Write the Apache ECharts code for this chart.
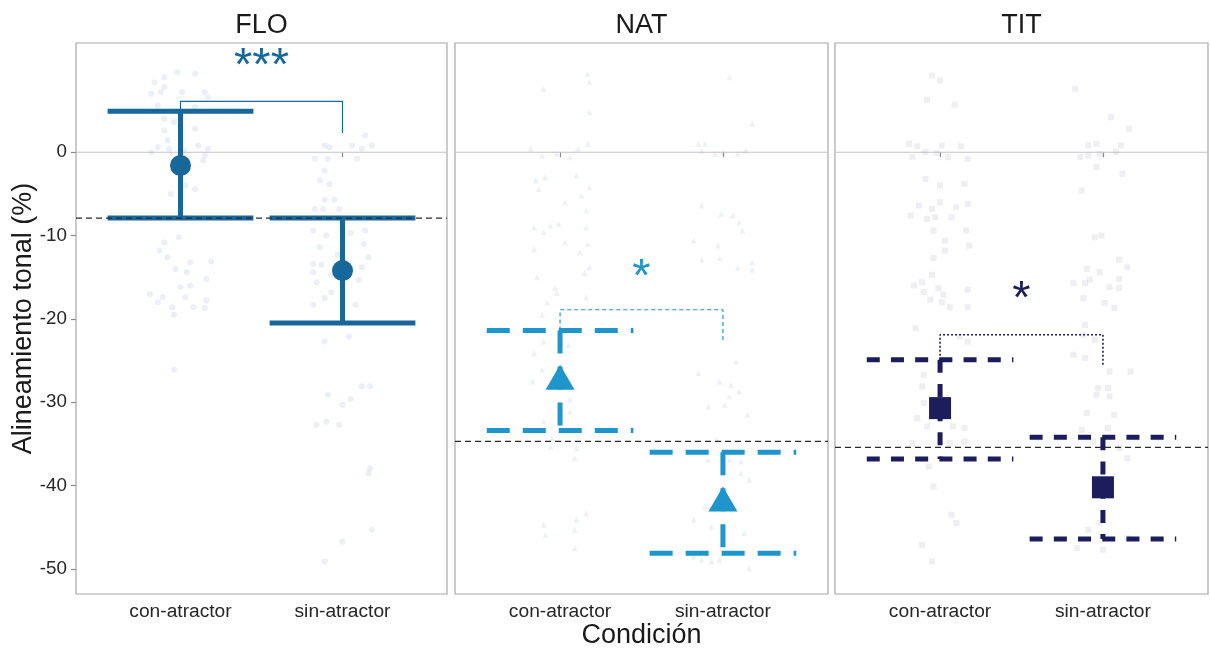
<!DOCTYPE html>
<html><head><meta charset="utf-8">
<script src="https://cdn.jsdelivr.net/npm/echarts@6/dist/echarts.min.js"></script>
<style>html,body{margin:0;padding:0;background:#fff}#c{width:1210px;height:648px}</style>
</head><body><div id="c"></div>
<script>
// ---------------- DATA ----------------
const panelNames = ['FLO', 'NAT', 'TIT'];
const categories = ['con-atractor', 'sin-atractor'];
const yTicks = [-50, -40, -30, -20, -10, 0];

// means and error-bar limits (con-atractor, sin-atractor)
const meanFLO = [-1.6, -14.2], lowFLO = [-7.9, -20.5], highFLO = [4.9, -7.9];
const meanNAT = [-27.0, -41.6], lowNAT = [-33.4, -48.1], highNAT = [-21.4, -36.0];
const meanTIT = [-30.7, -40.2], lowTIT = [-36.8, -46.4], highTIT = [-24.9, -34.2];

// horizontal reference lines
const zeroLine = 0;
const refLine = [-7.9, -34.7, -35.4];

// significance brackets
const bracketTop = [6.1, -18.9, -21.9];
const bracketLeftEnd = [4.9, -21.4, -24.9];
const bracketRightEnd = [2.3, -22.9, -25.7];
const sigLabels = ['***', '*', '*'];
const sigY = [11.45, -13.85, -16.55];

// individual observations: [jitter offset, value]
const jitFLO_con = [[-0.02,9.6],[0.09,9.4],[-0.10,9.0],[-0.16,8.4],[-0.10,7.8],[-0.18,7.0],[-0.12,7.2],[0.01,7.2],[0.15,7.2],[0.17,6.6],[-0.14,5.6],[0.09,5.4],[-0.10,4.0],[-0.04,3.6],[0.09,2.8],[-0.10,2.6],[-0.08,1.4],[0.11,0.8],[-0.14,0.6],[-0.07,0.4],[0.17,0.4],[-0.18,0.0],[0.02,0.2],[0.15,-0.4],[0.14,-1.0],[0.03,-4.0],[0.09,-4.4],[-0.06,-5.0],[-0.01,-10.2],[-0.10,-10.8],[-0.13,-11.8],[-0.08,-12.6],[0.06,-13.2],[0.19,-13.1],[-0.03,-14.0],[0.04,-14.4],[0.16,-15.2],[0.0,-16.2],[0.06,-16.0],[-0.19,-17.0],[-0.11,-17.4],[0.03,-17.4],[-0.14,-18.0],[-0.05,-18.6],[0.08,-18.6],[0.16,-17.8],[0.15,-18.7],[-0.04,-19.5],[-0.04,-26.1]];
const jitFLO_sin = [[0.14,2.0],[-0.11,0.8],[-0.08,0.6],[0.06,0.8],[0.18,0.8],[0.12,0.4],[-0.17,-0.8],[-0.09,-0.8],[0.09,-0.8],[-0.11,-2.2],[-0.14,-3.4],[-0.08,-3.8],[-0.11,-5.7],[-0.05,-5.7],[-0.17,-6.8],[-0.12,-6.8],[-0.02,-6.8],[-0.18,-9.4],[0.14,-9.4],[-0.10,-10.0],[0.05,-9.7],[-0.14,-11.4],[0.13,-11.0],[-0.03,-12.3],[0.16,-12.6],[-0.18,-13.4],[-0.13,-13.5],[0.12,-13.8],[-0.18,-14.4],[-0.07,-14.7],[-0.16,-15.6],[0.10,-15.3],[-0.07,-16.8],[-0.11,-17.5],[-0.18,-18.3],[0.08,-18.3],[-0.11,-22.7],[0.04,-22.1],[-0.09,-29.1],[0.0,-30.3],[0.05,-29.6],[0.12,-28.1],[0.17,-28.1],[-0.16,-32.7],[-0.10,-32.3],[-0.02,-32.7],[0.17,-37.9],[0.16,-38.5],[0.18,-45.3],[0.0,-46.7],[-0.11,-49.1]];
const jitNAT_con = [[0.17,9.4],[0.18,8.4],[-0.10,7.6],[0.18,4.8],[-0.18,0.4],[-0.11,-0.4],[-0.02,-0.2],[0.06,-0.6],[0.11,0.4],[0.17,1.0],[-0.15,-3.4],[-0.09,-3.0],[-0.13,-4.4],[0.10,-2.8],[0.18,-4.2],[0.13,-5.2],[0.03,-6.0],[0.16,-7.0],[-0.16,-9.0],[-0.06,-8.8],[-0.01,-8.6],[-0.10,-9.6],[0.16,-9.0],[0.03,-10.8],[-0.16,-11.6],[0.17,-11.0],[0.12,-12.0],[0.18,-13.8],[-0.14,-15.0],[0.15,-14.5],[-0.03,-16.3],[-0.02,-16.9],[0.16,-17.4],[-0.08,-18.0],[-0.11,-19.5],[-0.10,-22.7],[-0.16,-24.1],[0.05,-23.1],[-0.11,-26.1],[-0.17,-27.5],[0.06,-29.7],[0.06,-31.1],[-0.10,-32.3],[-0.05,-34.3],[0.10,-35.5],[-0.06,-35.3],[0.09,-36.7],[0.16,-43.3],[0.10,-44.1],[-0.10,-44.7],[0.09,-45.3],[-0.09,-45.9],[0.09,-47.5]];
const jitNAT_sin = [[0.04,9.0],[0.18,3.4],[-0.15,1.0],[-0.11,1.0],[-0.13,0.2],[-0.05,-0.2],[0.0,0.0],[0.09,-0.2],[0.14,0.2],[-0.13,-6.4],[-0.01,-7.4],[0.06,-7.6],[0.10,-8.4],[0.12,-9.4],[-0.18,-10.6],[-0.03,-11.2],[-0.13,-12.9],[-0.02,-12.7],[0.09,-13.9],[0.18,-13.2],[0.18,-14.1],[0.08,-25.1],[-0.15,-26.5],[-0.02,-27.5],[0.05,-27.9],[0.10,-28.7],[0.04,-29.3],[-0.09,-30.5],[0.01,-30.3],[0.15,-31.5],[-0.04,-34.5],[-0.09,-36.9],[0.04,-36.9],[0.11,-37.1],[0.11,-38.5],[0.16,-39.3],[-0.11,-42.5],[-0.18,-44.1],[-0.07,-44.9],[0.13,-45.7],[-0.18,-48.5],[-0.13,-48.9],[-0.07,-49.1],[-0.02,-48.9],[0.16,-49.9]];
const jitTIT_con = [[-0.05,9.2],[0.0,8.6],[-0.08,6.3],[0.09,5.7],[-0.19,1.0],[-0.14,0.7],[0.01,0.8],[0.13,0.7],[-0.17,-0.6],[-0.09,0.0],[-0.02,-0.1],[0.05,-0.6],[0.17,-0.8],[-0.09,-3.2],[0.0,-4.0],[0.15,-3.8],[-0.13,-6.4],[-0.05,-6.8],[0.0,-6.0],[0.10,-6.6],[0.17,-6.2],[-0.18,-7.6],[-0.08,-8.0],[-0.03,-7.8],[0.07,-7.8],[-0.04,-9.4],[0.16,-9.4],[0.03,-10.6],[0.03,-11.8],[0.18,-11.2],[-0.04,-12.7],[-0.05,-14.7],[-0.16,-16.0],[-0.11,-15.6],[-0.01,-16.3],[0.02,-17.1],[0.17,-16.5],[-0.10,-16.8],[0.17,-18.6],[-0.06,-17.7],[0.01,-18.0],[0.06,-18.6],[-0.15,-21.1],[0.12,-22.1],[0.17,-22.7],[-0.10,-26.7],[-0.11,-28.1],[-0.10,-30.1],[-0.14,-31.9],[-0.08,-32.9],[0.08,-32.9],[0.15,-33.1],[-0.17,-34.9],[0.06,-34.9],[0.15,-34.7],[-0.07,-37.7],[-0.04,-40.1],[0.07,-43.5],[0.10,-44.5],[-0.11,-47.1],[-0.05,-49.1]];
const jitTIT_sin = [[-0.17,7.6],[0.05,4.2],[0.16,2.8],[-0.09,0.8],[-0.04,1.0],[0.11,0.8],[-0.14,-0.6],[-0.09,-0.4],[-0.02,-0.2],[0.08,0.0],[-0.04,-1.8],[0.12,-2.6],[-0.13,-4.6],[-0.05,-10.2],[-0.01,-10.0],[0.10,-12.9],[0.15,-13.8],[-0.10,-14.0],[-0.02,-14.4],[-0.18,-15.7],[-0.11,-15.7],[-0.08,-15.3],[0.04,-16.2],[0.10,-15.2],[0.10,-16.3],[-0.12,-17.5],[0.01,-18.1],[0.07,-18.7],[-0.11,-20.7],[-0.12,-21.9],[-0.05,-22.5],[-0.18,-24.3],[-0.11,-24.7],[0.04,-26.3],[0.17,-26.3],[-0.03,-28.3],[0.03,-28.3],[-0.04,-29.1],[0.04,-29.3],[-0.10,-31.3],[0.07,-31.5],[-0.13,-33.3],[0.03,-33.1],[-0.06,-34.7],[0.10,-35.5],[0.15,-36.7],[-0.02,-44.5],[-0.09,-45.3],[0.15,-46.3],[-0.16,-47.5],[0.0,-47.7]];

// ---------------- STYLE ----------------
const FONT = '"Liberation Sans", Arial, Helvetica, sans-serif';
const colors = ['#17679a', '#1f96cb', '#1d1c5c'];
const pointColors = ['#8a9ed0', '#93b3d0', '#9c9cb8'];
const barDash = [null, [23, 13], [13, 11.2]];
const bracketDash = ['solid', [4, 3], [2, 2]];
const bracketWidth = [1.2, 1.2, 1.6];
const markerSym = ['circle', 'triangle', 'rect'];
const markerSize = [21, [29, 25], 22];
const lefts = [76, 455, 835];
const widths = [371, 373, 373];
const TOP = 43, H = 551;
const capHalf = 0.45;

const means = [meanFLO, meanNAT, meanTIT];
const lows = [lowFLO, lowNAT, lowTIT];
const highs = [highFLO, highNAT, highTIT];
const jit = [[jitFLO_con, jitFLO_sin], [jitNAT_con, jitNAT_sin], [jitTIT_con, jitTIT_sin]];

const grids = [], xAxes = [], yAxes = [], series = [];

panelNames.forEach((name, i) => {
  grids.push({ left: lefts[i], top: TOP, width: widths[i], height: H, show: true,
    borderColor: '#a8a8a8', borderWidth: 1.2, backgroundColor: '#ffffff' });
  xAxes.push({ gridIndex: i, type: 'value', min: 0.355, max: 2.645,
    axisLine: { show: false }, splitLine: { show: false },
    axisTick: { show: true, customValues: [1, 2], length: 5, lineStyle: { color: '#8a8a8a', width: 1.2 } },
    axisLabel: { show: true, customValues: [1, 2], formatter: v => categories[Math.round(v) - 1],
      fontSize: 19.2, color: '#262626', margin: 8, fontFamily: FONT } });
  yAxes.push({ gridIndex: i, type: 'value', min: -53, max: 13.1,
    axisLine: { show: false }, splitLine: { show: false },
    axisTick: { show: i === 0, customValues: yTicks, length: 5, lineStyle: { color: '#8a8a8a', width: 1.2 } },
    axisLabel: { show: i === 0, customValues: yTicks, fontSize: 18.8, color: '#262626', margin: 9, fontFamily: FONT } });

  // zero line
  series.push({ type: 'custom', xAxisIndex: i, yAxisIndex: i, z: 1, silent: true,
    data: [[1.5, zeroLine]],
    renderItem: (params, api) => {
      const cs = params.coordSys; const y = api.coord([1.5, api.value(1)])[1];
      return { type: 'line', shape: { x1: cs.x, y1: y, x2: cs.x + cs.width, y2: y },
        style: { stroke: '#c4c4c4', lineWidth: 1.1, fill: null } };
    } });

  // observations
  jit[i].forEach((arr, c) => {
    series.push({ type: 'scatter', xAxisIndex: i, yAxisIndex: i, z: 2, silent: true,
      symbol: markerSym[i], symbolSize: 6,
      itemStyle: { color: pointColors[i], opacity: 0.17 },
      data: arr.map(([d, v]) => [c + 1 + d, v]) });
  });

  // error bars
  series.push({ type: 'custom', xAxisIndex: i, yAxisIndex: i, z: 3, silent: true,
    data: categories.map((_, c) => [c + 1, lows[i][c], highs[i][c]]),
    renderItem: (params, api) => {
      const x = api.value(0), lo = api.value(1), hi = api.value(2);
      const st = { stroke: colors[i], lineWidth: 5, fill: null, lineCap: 'butt' };
      if (barDash[i]) st.lineDash = barDash[i];
      const tl = api.coord([x - capHalf, hi]), tr = api.coord([x + capHalf, hi]);
      const bl = api.coord([x - capHalf, lo]), br = api.coord([x + capHalf, lo]);
      const t = api.coord([x, hi]), b = api.coord([x, lo]);
      return { type: 'group', children: [
        { type: 'line', shape: { x1: tl[0], y1: tl[1], x2: tr[0], y2: tr[1] }, style: Object.assign({}, st) },
        { type: 'line', shape: { x1: bl[0], y1: bl[1], x2: br[0], y2: br[1] }, style: Object.assign({}, st) },
        { type: 'line', shape: { x1: t[0], y1: t[1], x2: b[0], y2: b[1] }, style: Object.assign({}, st) }
      ] };
    } });

  // means
  series.push({ type: 'scatter', xAxisIndex: i, yAxisIndex: i, z: 4, silent: true,
    symbol: markerSym[i], symbolSize: markerSize[i],
    itemStyle: { color: colors[i], opacity: 1 },
    data: means[i].map((m, c) => [c + 1, m]) });

  // bracket
  series.push({ type: 'line', xAxisIndex: i, yAxisIndex: i, z: 3, silent: true,
    showSymbol: false, symbol: 'none',
    lineStyle: { color: colors[i], width: bracketWidth[i], type: bracketDash[i] },
    data: [[1, bracketLeftEnd[i]], [1, bracketTop[i]], [2, bracketTop[i]], [2, bracketRightEnd[i]]] });

  // reference dashed line
  series.push({ type: 'custom', xAxisIndex: i, yAxisIndex: i, z: 6, silent: true,
    data: [[1.5, refLine[i]]],
    renderItem: (params, api) => {
      const cs = params.coordSys; const y = api.coord([1.5, api.value(1)])[1];
      return { type: 'line', shape: { x1: cs.x, y1: y, x2: cs.x + cs.width, y2: y },
        style: { stroke: '#2a2a2a', lineWidth: 1.3, lineDash: [6, 4], fill: null } };
    } });

  // significance label
  series.push({ type: 'custom', xAxisIndex: i, yAxisIndex: i, z: 6, silent: true,
    data: [[1.5, sigY[i]]],
    renderItem: (params, api) => {
      const p = api.coord([api.value(0), api.value(1)]);
      return { type: 'text', x: p[0], y: p[1] + 10,
        style: { text: sigLabels[i], fontSize: 47, fontFamily: FONT, fill: colors[i],
          align: 'center', verticalAlign: 'middle' } };
    } });
});

const graphics = panelNames.map((name, i) => ({
  type: 'text', x: lefts[i] + widths[i] / 2, y: 26,
  style: { text: name, fontSize: 27, fontFamily: FONT, fill: '#1a1a1a', align: 'center', verticalAlign: 'middle' }
}));
graphics.push({ type: 'text', x: 24, y: TOP + H / 2, rotation: Math.PI / 2,
  style: { text: 'Alineamiento tonal (%)', fontSize: 27, fontFamily: FONT, fill: '#1a1a1a', align: 'center', verticalAlign: 'middle' } });
graphics.push({ type: 'text', x: lefts[1] + widths[1] / 2, y: 636,
  style: { text: 'Condición', fontSize: 27, fontFamily: FONT, fill: '#1a1a1a', align: 'center', verticalAlign: 'middle' } });

const chart = echarts.init(document.getElementById('c'), null, { renderer: 'canvas' });
chart.setOption({
  animation: false,
  backgroundColor: '#ffffff',
  grid: grids, xAxis: xAxes, yAxis: yAxes, series: series, graphic: graphics
});
</script></body></html>
